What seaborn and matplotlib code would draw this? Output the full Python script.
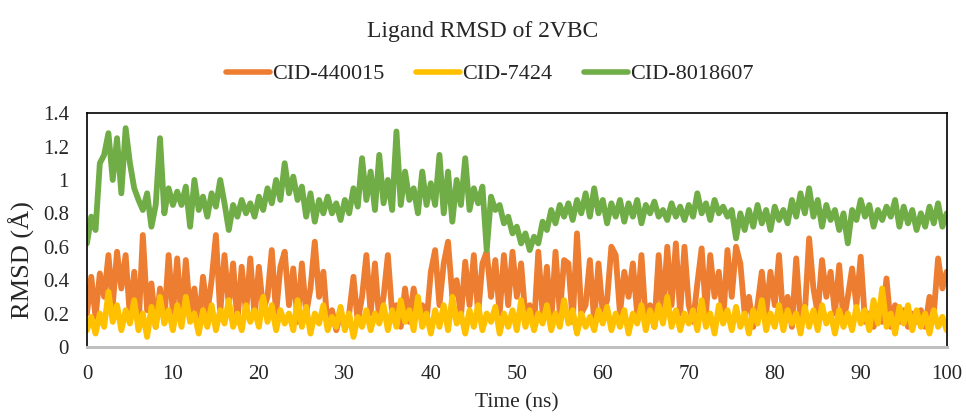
import numpy as np
import pandas as pd
import seaborn as sns
import matplotlib.pyplot as plt

# RMSD values, one sample every 0.5 ns (0 - 100 ns)
time_ns = np.linspace(0, 100, 201)

cid_440015 = [
    0.2, 0.42, 0.18, 0.44, 0.3, 0.55, 0.25, 0.57, 0.35, 0.55, 0.18, 0.45, 0.12, 0.67, 0.22, 0.38, 0.12, 0.35, 0.15, 0.55, 0.2,
    0.53, 0.15, 0.52, 0.2, 0.35, 0.12, 0.42, 0.2, 0.4, 0.67, 0.2, 0.55, 0.25, 0.5, 0.15, 0.48, 0.2, 0.53, 0.18, 0.48,
    0.22, 0.3, 0.58, 0.2, 0.48, 0.57, 0.25, 0.47, 0.15, 0.5, 0.2, 0.35, 0.63, 0.3, 0.45, 0.12, 0.22, 0.1, 0.2, 0.12,
    0.2, 0.42, 0.15, 0.3, 0.55, 0.2, 0.5, 0.15, 0.3, 0.55, 0.2, 0.25, 0.12, 0.35, 0.15, 0.35, 0.2, 0.25, 0.15, 0.45,
    0.58, 0.25, 0.5, 0.63, 0.3, 0.4, 0.18, 0.51, 0.25, 0.55, 0.2, 0.5, 0.57, 0.3, 0.52, 0.2, 0.55, 0.25, 0.57, 0.3,
    0.5, 0.18, 0.25, 0.12, 0.57, 0.2, 0.48, 0.15, 0.57, 0.2, 0.52, 0.5, 0.15, 0.68, 0.2, 0.25, 0.52, 0.15, 0.5, 0.2,
    0.28, 0.6, 0.55, 0.2, 0.45, 0.3, 0.5, 0.2, 0.55, 0.15, 0.25, 0.12, 0.55, 0.2, 0.6, 0.25, 0.62, 0.2, 0.6, 0.25,
    0.15, 0.38, 0.59, 0.2, 0.55, 0.3, 0.45, 0.15, 0.58, 0.3, 0.6, 0.5, 0.2, 0.3, 0.12, 0.25, 0.45, 0.2, 0.45, 0.25,
    0.55, 0.15, 0.3, 0.12, 0.53, 0.15, 0.2, 0.65, 0.35, 0.2, 0.52, 0.3, 0.45, 0.2, 0.49, 0.15, 0.3, 0.47, 0.25, 0.54,
    0.15, 0.2, 0.12, 0.22, 0.15, 0.41, 0.12, 0.25, 0.15, 0.22, 0.12, 0.2, 0.15, 0.22, 0.12, 0.3, 0.2, 0.53, 0.35, 0.45,
]

cid_7424 = [
    0.1, 0.18, 0.08, 0.2, 0.12, 0.33, 0.15, 0.25, 0.1, 0.22, 0.14, 0.28, 0.1, 0.2, 0.06, 0.24, 0.12, 0.3, 0.14, 0.22, 0.1,
    0.25, 0.12, 0.3, 0.15, 0.2, 0.08, 0.22, 0.12, 0.25, 0.1, 0.22, 0.14, 0.28, 0.12, 0.2, 0.1, 0.25, 0.15, 0.22, 0.12,
    0.3, 0.15, 0.25, 0.1, 0.22, 0.14, 0.2, 0.1, 0.28, 0.12, 0.24, 0.08, 0.2, 0.14, 0.25, 0.1, 0.18, 0.12, 0.24, 0.1,
    0.2, 0.06, 0.18, 0.12, 0.22, 0.1, 0.2, 0.14, 0.25, 0.1, 0.22, 0.12, 0.28, 0.15, 0.22, 0.1, 0.3, 0.12, 0.2, 0.08,
    0.22, 0.12, 0.25, 0.1, 0.3, 0.14, 0.2, 0.08, 0.22, 0.12, 0.25, 0.1, 0.2, 0.15, 0.24, 0.08, 0.2, 0.12, 0.22, 0.1,
    0.28, 0.12, 0.22, 0.1, 0.2, 0.14, 0.25, 0.1, 0.2, 0.12, 0.28, 0.14, 0.22, 0.08, 0.2, 0.12, 0.18, 0.1, 0.22, 0.14,
    0.24, 0.1, 0.2, 0.12, 0.22, 0.08, 0.2, 0.14, 0.25, 0.1, 0.22, 0.12, 0.25, 0.14, 0.3, 0.12, 0.22, 0.1, 0.2, 0.14,
    0.22, 0.1, 0.28, 0.12, 0.2, 0.08, 0.25, 0.14, 0.22, 0.1, 0.24, 0.12, 0.2, 0.08, 0.22, 0.14, 0.28, 0.1, 0.2, 0.12,
    0.25, 0.1, 0.22, 0.14, 0.2, 0.08, 0.24, 0.12, 0.22, 0.1, 0.25, 0.14, 0.2, 0.08, 0.22, 0.12, 0.2, 0.1, 0.24, 0.14,
    0.22, 0.1, 0.28, 0.14, 0.35, 0.12, 0.2, 0.08, 0.24, 0.14, 0.25, 0.1, 0.22, 0.12, 0.2, 0.08, 0.22, 0.12, 0.18, 0.1,
]

cid_8018607 = [
    0.62, 0.78, 0.7, 1.1, 1.15, 1.28, 1.0, 1.25, 0.92, 1.31, 1.1, 0.95, 0.88, 0.82, 0.92, 0.72, 0.85, 1.25, 0.8, 0.95, 0.85,
    0.93, 0.85, 0.96, 0.72, 1.0, 0.82, 0.9, 0.78, 0.92, 0.84, 1.0, 0.86, 0.7, 0.85, 0.78, 0.88, 0.8, 0.86, 0.78, 0.9,
    0.82, 0.95, 0.86, 1.0, 0.88, 1.1, 0.92, 1.02, 0.88, 0.96, 0.78, 0.92, 0.75, 0.88, 0.8, 0.9, 0.8, 0.86, 0.76, 0.88,
    0.8, 0.95, 0.84, 1.13, 0.88, 1.05, 0.82, 1.15, 0.86, 1.0, 0.82, 1.29, 0.85, 1.05, 0.88, 0.95, 0.8, 1.05, 0.85, 0.98,
    0.85, 1.15, 0.8, 1.05, 0.75, 1.0, 0.85, 1.13, 0.82, 0.95, 0.86, 0.96, 0.58, 0.9, 0.82, 0.85, 0.74, 0.78, 0.68, 0.72,
    0.62, 0.68, 0.58, 0.66, 0.62, 0.75, 0.7, 0.82, 0.74, 0.85, 0.78, 0.86, 0.76, 0.88, 0.8, 0.92, 0.78, 0.95, 0.8, 0.88,
    0.74, 0.86, 0.78, 0.88, 0.75, 0.86, 0.78, 0.88, 0.74, 0.85, 0.8, 0.87, 0.78, 0.82, 0.76, 0.86, 0.78, 0.84, 0.76, 0.85,
    0.78, 0.92, 0.8, 0.86, 0.76, 0.88, 0.8, 0.84, 0.78, 0.82, 0.65, 0.8, 0.7, 0.82, 0.72, 0.85, 0.74, 0.82, 0.7, 0.84,
    0.76, 0.82, 0.74, 0.88, 0.78, 0.92, 0.8, 0.95, 0.78, 0.88, 0.72, 0.85, 0.76, 0.82, 0.7, 0.8, 0.62, 0.82, 0.76, 0.88,
    0.78, 0.85, 0.72, 0.82, 0.76, 0.84, 0.78, 0.88, 0.72, 0.84, 0.74, 0.82, 0.7, 0.8, 0.72, 0.84, 0.74, 0.86, 0.72, 0.8,
]

ligands = ['CID-440015', 'CID-7424', 'CID-8018607']
colors = {'CID-440015': '#ED7D31', 'CID-7424': '#FFC000', 'CID-8018607': '#70AD47'}
y_ticks = [0, 0.2, 0.4, 0.6, 0.8, 1, 1.2, 1.4]
y_tick_labels = ['0', '0.2', '0.4', '0.6', '0.8', '1', '1.2', '1.4']
x_ticks = [0, 10, 20, 30, 40, 50, 60, 70, 80, 90, 100]

#%%
# long-form table for seaborn
rmsd = pd.DataFrame({
    'Time': np.tile(time_ns, 3),
    'RMSD': cid_440015 + cid_7424 + cid_8018607,
    'Ligand': np.repeat(ligands, len(time_ns)),
})

sns.set_style('white')
plt.rcParams['font.family'] = ['Liberation Serif', 'DejaVu Serif']

fig = plt.figure(figsize=(9.66, 4.19), dpi=100)
ax = fig.add_axes([0.090, 0.172, 0.890, 0.558])
sns.lineplot(data=rmsd, x='Time', y='RMSD', hue='Ligand', palette=colors,
             hue_order=ligands, linewidth=4.2, ax=ax, legend=False, estimator=None)

ax.set_xlim(0, 100)
ax.set_ylim(0, 1.4)
ax.set_xticks(x_ticks)
ax.set_yticks(y_ticks)
ax.set_yticklabels(y_tick_labels)
ax.tick_params(axis='both', labelsize=15, length=0)
ax.tick_params(axis='x', pad=13)
ax.tick_params(axis='y', pad=13)
ax.set_xlabel('Time (ns)', fontsize=15.5, labelpad=7)
ax.set_ylabel('')
fig.text(0.023, 0.38, 'RMSD (Å)', rotation=90, ha='center', va='center', fontsize=19)

for side in ['top', 'left', 'right']:
    ax.spines[side].set_color('black')
    ax.spines[side].set_linewidth(1.2)
ax.spines['bottom'].set_color('#BFBFBF')
ax.spines['bottom'].set_linewidth(2.2)

fig.text(0.5, 0.926, 'Ligand RMSD of 2VBC', ha='center', va='center', fontsize=17)
handles = [plt.Line2D([], [], color=colors[l], linewidth=4) for l in ligands]
fig.legend(handles, ligands, loc='center', bbox_to_anchor=(0.507, 0.823), ncol=3,
           frameon=False, fontsize=16, handlelength=2.0, handletextpad=0.1, columnspacing=1.4)

plt.savefig('out.png', dpi=100)
